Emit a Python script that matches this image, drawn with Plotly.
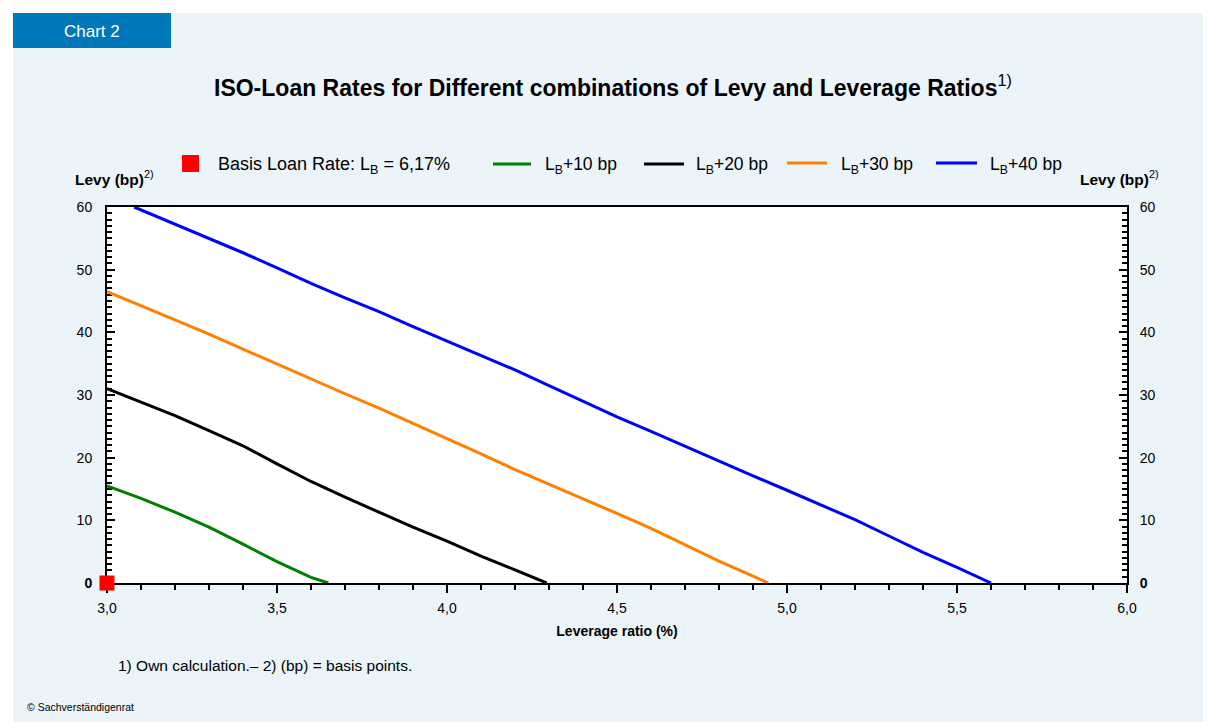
import plotly.graph_objects as go

# ---------------- data ----------------
x_tick_vals = [3.0, 3.5, 4.0, 4.5, 5.0, 5.5, 6.0]
x_tick_text = ["3,0", "3,5", "4,0", "4,5", "5,0", "5,5", "6,0"]
y_tick_vals = [0, 10, 20, 30, 40, 50, 60]
y_tick_text = ["<b>0</b>", "10", "20", "30", "40", "50", "60"]

series_names = ["L<sub>B</sub>+10 bp", "L<sub>B</sub>+20 bp", "L<sub>B</sub>+30 bp", "L<sub>B</sub>+40 bp"]
series_colors = ["#008000", "#000000", "#FF8000", "#0000FF"]

lev_10 = [3.0, 3.1, 3.2, 3.3, 3.4, 3.5, 3.6, 3.651]
levy_10 = [15.5, 13.5, 11.3, 8.9, 6.2, 3.4, 0.9, 0.0]

lev_20 = [3.0, 3.1, 3.2, 3.3, 3.4, 3.5, 3.6, 3.7, 3.8, 3.9, 4.0, 4.1, 4.2, 4.293]
levy_20 = [31.0, 28.9, 26.7, 24.3, 21.9, 19.0, 16.2, 13.7, 11.3, 8.9, 6.7, 4.3, 2.1, 0.0]

lev_30 = [3.0, 3.1, 3.2, 3.3, 3.4, 3.5, 3.6, 3.7, 3.8, 3.9, 4.0, 4.1, 4.2, 4.3,
          4.4, 4.5, 4.6, 4.7, 4.8, 4.9, 4.945]
levy_30 = [46.5, 44.3, 42.0, 39.7, 37.3, 34.9, 32.5, 30.2, 27.9, 25.5, 23.1, 20.6, 18.1, 15.8,
           13.4, 11.1, 8.7, 6.1, 3.5, 1.1, 0.0]

lev_40 = [3.08, 3.2, 3.3, 3.4, 3.5, 3.6, 3.7, 3.8, 3.9, 4.0, 4.1, 4.2, 4.3, 4.4,
          4.5, 4.6, 4.7, 4.8, 4.9, 5.0, 5.1, 5.2, 5.3, 5.4, 5.5, 5.6]
levy_40 = [60.0, 57.3, 55.0, 52.7, 50.3, 47.8, 45.5, 43.3, 40.9, 38.6, 36.2, 34.0, 31.5, 29.0,
           26.5, 24.2, 21.8, 19.5, 17.1, 14.8, 12.5, 10.1, 7.5, 4.9, 2.5, 0.0]

basis_lev = [3.0]
basis_levy = [0.0]
basis_label = "Basis Loan Rate: L<sub>B</sub> = 6,17%"

# ---------------- geometry helpers (page pixel -> paper) ----------------
PAGE_W, PAGE_H = 1211, 722
OFF = 8                      # default body margin of the html page
W, H = PAGE_W - OFF, PAGE_H - OFF
L, R, T, B = 107, 1127, 207, 583   # plot area in page pixels


def px(x):
    return (x - L) / (R - L)


def py(y):
    return (B - y) / (B - T)


FONT = "Liberation Sans, Arial, sans-serif"
PANEL = "#EBF4F8"

fig = go.Figure()

xs = [lev_10, lev_20, lev_30, lev_40]
ys = [levy_10, levy_20, levy_30, levy_40]
for name, color, xv, yv in zip(series_names, series_colors, xs, ys):
    fig.add_trace(go.Scatter(x=xv, y=yv, mode="lines", name=name,
                             line=dict(color=color, width=3), showlegend=False,
                             cliponaxis=False))

fig.add_trace(go.Scatter(x=basis_lev, y=basis_levy, mode="markers", name="Basis",
                         marker=dict(symbol="square", size=15, color="#FF0000",
                                     line=dict(width=0)),
                         yaxis="y2", showlegend=False, cliponaxis=False))

axis_common = dict(showgrid=False, zeroline=False, showline=True, linecolor="black",
                   linewidth=2, tickcolor="black", tickwidth=2,
                   tickfont=dict(family=FONT, size=14, color="#000"))

fig.update_layout(
    width=W, height=H, autosize=False,
    margin=dict(l=L - OFF, r=PAGE_W - R, t=T - OFF, b=H - (B - OFF), pad=0),
    paper_bgcolor=PANEL, plot_bgcolor="white",
    font=dict(family=FONT, color="#000"),
    showlegend=False,
    xaxis=dict(range=[3, 6], tickvals=x_tick_vals, ticktext=x_tick_text,
               ticks="outside", ticklen=8, mirror=True, ticklabelstandoff=3,
               minor=dict(dtick=0.1, tick0=3, ticks="outside", ticklen=5,
                          tickwidth=1.5, tickcolor="black"),
               title=dict(text="<b>Leverage ratio (%)</b>", standoff=11,
                          font=dict(family=FONT, size=14, color="#000")),
               layer="below traces",
               **axis_common),
    yaxis=dict(range=[0, 60], tickvals=y_tick_vals, ticktext=y_tick_text,
               ticks="inside", ticklen=8, ticklabelstandoff=10,
               minor=dict(dtick=1, tick0=0, ticks="inside", ticklen=5,
                          tickwidth=1.5, tickcolor="black"),
               layer="below traces",
               **axis_common),
    yaxis2=dict(range=[0, 60], tickvals=y_tick_vals, ticktext=y_tick_text,
                overlaying="y", side="right",
                ticks="inside", ticklen=8, ticklabelstandoff=8,
                minor=dict(dtick=1, tick0=0, ticks="inside", ticklen=5,
                           tickwidth=1.5, tickcolor="black"),
                layer="below traces",
                **axis_common),
)

shapes = [
    # white page strips outside the panel
    dict(type="rect", xref="paper", yref="paper", x0=px(0), x1=px(PAGE_W + 20), y0=py(0), y1=py(13),
         fillcolor="white", line=dict(width=0), layer="below"),
    dict(type="rect", xref="paper", yref="paper", x0=px(0), x1=px(13), y0=py(0), y1=py(PAGE_H + 20),
         fillcolor="white", line=dict(width=0), layer="below"),
    # "Chart 2" tab
    dict(type="rect", xref="paper", yref="paper", x0=px(13), x1=px(171), y0=py(13), y1=py(48),
         fillcolor="#0077B8", line=dict(width=0), layer="below"),
    # legend symbol for the basis loan rate
    dict(type="rect", xref="paper", yref="paper", x0=px(182), x1=px(199), y0=py(155), y1=py(172),
         fillcolor="#FF0000", line=dict(width=0)),
]
legend_lines = [(493, 531, 164), (644, 684, 164), (787, 827, 163), (936, 977, 163)]
for (x0, x1, yy), c in zip(legend_lines, series_colors):
    shapes.append(dict(type="line", xref="paper", yref="paper", x0=px(x0), x1=px(x1),
                       y0=py(yy), y1=py(yy), line=dict(color=c, width=3)))

annotations = [
    dict(text="Chart 2", x=px(92), y=py(31), xanchor="center", yanchor="middle",
         font=dict(family=FONT, size=17, color="white")),
    dict(text="<b>ISO-Loan Rates for Different combinations of Levy and Leverage Ratios</b><sup>1)</sup>",
         x=px(613), y=py(86), xanchor="center", yanchor="middle",
         font=dict(family=FONT, size=23, color="#000")),
    dict(text=basis_label, x=px(216), y=py(165), xanchor="left", yanchor="middle",
         font=dict(family=FONT, size=18, color="#000")),
    dict(text="<b>Levy (bp)</b><sup>2)</sup>", x=px(73), y=py(178), xanchor="left", yanchor="middle",
         font=dict(family=FONT, size=15.5, color="#000")),
    dict(text="<b>Levy (bp)</b><sup>2)</sup>", x=px(1078), y=py(178), xanchor="left", yanchor="middle",
         font=dict(family=FONT, size=15.5, color="#000")),
    dict(text="1) Own calculation.\u2013 2) (bp) = basis points.", x=px(116), y=py(665),
         xanchor="left", yanchor="middle", font=dict(family=FONT, size=15.5, color="#000")),
    dict(text="\u00a9 Sachverst\u00e4ndigenrat", x=px(25), y=py(707),
         xanchor="left", yanchor="middle", font=dict(family=FONT, size=10.5, color="#000")),
]
legend_text_x = [543, 694, 839, 988]
for name, xx in zip(series_names, legend_text_x):
    annotations.append(dict(text=name, x=px(xx), y=py(165), xanchor="left", yanchor="middle",
                            font=dict(family=FONT, size=17.5, color="#000")))

for a in annotations:
    a.update(xref="paper", yref="paper", showarrow=False)

fig.update_layout(shapes=shapes, annotations=annotations)

fig.write_html("out.html")
